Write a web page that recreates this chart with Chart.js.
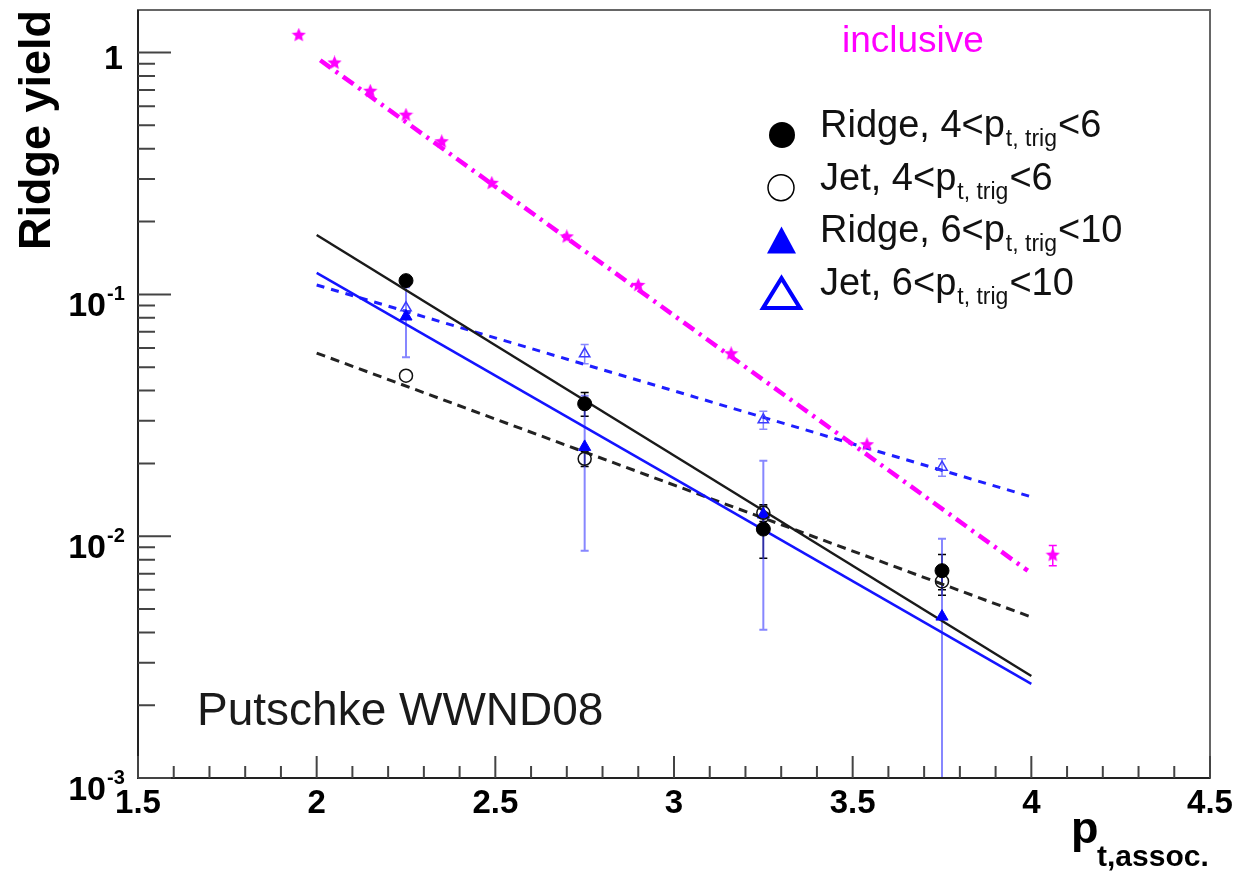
<!DOCTYPE html>
<html>
<head>
<meta charset="utf-8">
<script src="https://cdn.jsdelivr.net/npm/chart.js@4.4.1/dist/chart.umd.min.js"></script>
<style>
  html, body { margin: 0; padding: 0; background: #fff; }
  #wrap { width: 1235px; height: 874px; position: relative; }
</style>
</head>
<body>
<div id="wrap"><canvas id="ridgeChart"></canvas></div>
<script>
// p_t,assoc. bins of the per-trigger yields
var ptBins = [2.25, 2.75, 3.25, 3.75];

var ridgeLow = [0.114, 0.0353, 0.0107, 0.0072];      // Ridge, 4<pt,trig<6
var ridgeLowErr = [0.006, 0.004, 0.0026, 0.0012];
var jetLow = [0.0461, 0.0209, 0.0125, 0.0065];       // Jet, 4<pt,trig<6
var jetLowErr = [0.002, 0.0015, 0.001, 0.0008];
var ridgeHigh = [0.081, 0.0234, 0.0123, 0.00465];    // Ridge, 6<pt,trig<10
var ridgeHighErr = [0.026, 0.0147, 0.0082, 0.0051];
var jetHigh = [0.088, 0.0568, 0.0303, 0.0193];       // Jet, 6<pt,trig<10
var jetHighErr = [0.004, 0.0052, 0.0026, 0.0016];

// inclusive spectrum (magenta stars)
var inclX = [1.95, 2.05, 2.15, 2.25, 2.35, 2.49, 2.70, 2.90, 3.16, 3.54, 4.06];
var inclY = [1.18, 0.906, 0.692, 0.551, 0.428, 0.288, 0.173, 0.109, 0.0568, 0.0239, 0.00835];
var inclErr = [0.04, 0.03, 0.025, 0.02, 0.015, 0.01, 0.006, 0.004, 0.002, 0.0009, 0.0008];

// exponential fits, evaluated at the ends of the fit range
var fitX = [2.0, 4.0];
var fitRidgeLow = [0.176, 0.00264];
var fitRidgeHigh = [0.1227, 0.00245];
var fitJetHigh = [0.1094, 0.01455];
var fitJetLow = [0.0572, 0.00463];
var fitInclX = [2.01, 3.99];
var fitIncl = [0.93, 0.0072];

// axis labels
var xTickLabels = [1.5, 2, 2.5, 3, 3.5, 4, 4.5];
var yTickValues = [1, 0.1, 0.01, 0.001];
var yTickExps = [0, -1, -2, -3];

var legendParts = [
  ['Ridge, 4<p', 't, trig', '<6'],
  ['Jet, 4<p', 't, trig', '<6'],
  ['Ridge, 6<p', 't, trig', '<10'],
  ['Jet, 6<p', 't, trig', '<10']
];

var FONT = '"Liberation Sans", Arial, Helvetica, sans-serif';

function toPts(xs, ys) {
  return xs.map(function(x, i) { return {x: x, y: ys[i]}; });
}

function starImage(size, color) {
  var c = document.createElement('canvas');
  c.width = size; c.height = size;
  var g = c.getContext('2d');
  var r = size / 2, ri = r * 0.45;
  g.beginPath();
  for (var i = 0; i < 10; i++) {
    var ang = -Math.PI / 2 + i * Math.PI / 5;
    var rr = i % 2 === 0 ? r : ri;
    g.lineTo(r + rr * Math.cos(ang), r + rr * Math.sin(ang));
  }
  g.closePath();
  g.fillStyle = color;
  g.fill();
  return c;
}

var errorBars = {
  id: 'errorBars',
  beforeDatasetsDraw: function(chart) {
    var ctx = chart.ctx, xs = chart.scales.x, ys = chart.scales.y, a = chart.chartArea;
    ctx.save();
    chart.data.datasets.forEach(function(ds) {
      if (!ds.errors) return;
      ctx.strokeStyle = ds.errorColor;
      ctx.lineWidth = ds.errorWidth || 1.5;
      ds.data.forEach(function(p, i) {
        var e = ds.errors[i];
        var px = xs.getPixelForValue(p.x);
        var top = ys.getPixelForValue(p.y + e);
        var lo = p.y - e;
        var bot = lo > 0 ? Math.min(ys.getPixelForValue(lo), a.bottom) : a.bottom;
        // hidden behind the marker, as in the original
        if (bot - top < 2 * ds.pointRadius + 2) return;
        ctx.beginPath();
        ctx.moveTo(px, top); ctx.lineTo(px, bot);
        ctx.moveTo(px - 4, top); ctx.lineTo(px + 4, top);
        if (lo > 0) { ctx.moveTo(px - 4, bot); ctx.lineTo(px + 4, bot); }
        ctx.stroke();
      });
    });
    ctx.restore();
  }
};

var rootAxes = {
  id: 'rootAxes',
  afterDraw: function(chart) {
    var ctx = chart.ctx, a = chart.chartArea, xs = chart.scales.x, ys = chart.scales.y;
    ctx.save();

    // frame
    ctx.lineWidth = 2;
    ctx.strokeStyle = '#666';
    ctx.strokeRect(a.left, a.top, a.right - a.left, a.bottom - a.top);
    ctx.strokeStyle = '#222';
    ctx.beginPath();
    ctx.moveTo(a.left, a.top); ctx.lineTo(a.left, a.bottom); ctx.lineTo(a.right, a.bottom);
    ctx.stroke();

    // tick marks, pointing inwards
    ctx.strokeStyle = '#444';
    ctx.beginPath();
    xs.ticks.forEach(function(t) {
      var px = xs.getPixelForValue(t.value);
      var major = Math.abs(t.value * 2 - Math.round(t.value * 2)) < 1e-6;
      ctx.moveTo(px, a.bottom); ctx.lineTo(px, a.bottom - (major ? 22 : 12));
    });
    ys.ticks.forEach(function(t) {
      var m = t.value / Math.pow(10, Math.floor(Math.log10(t.value) + 1e-9));
      if (Math.abs(m - Math.round(m)) > 1e-6) return;
      var py = ys.getPixelForValue(t.value);
      if (py < a.top) return;
      ctx.moveTo(a.left, py); ctx.lineTo(a.left + (Math.round(m) === 1 ? 33 : 17), py);
    });
    ctx.stroke();

    // tick labels
    ctx.fillStyle = '#000';
    ctx.font = 'bold 33px ' + FONT;
    ctx.textAlign = 'center';
    ctx.textBaseline = 'alphabetic';
    xTickLabels.forEach(function(v) {
      ctx.fillText(String(v), xs.getPixelForValue(v), a.bottom + 35);
    });
    yTickValues.forEach(function(v, i) {
      var py = ys.getPixelForValue(v);
      ctx.textAlign = 'right';
      ctx.font = 'bold 34px ' + FONT;
      if (yTickExps[i] === 0) {
        ctx.fillText('1', a.left - 15, py + 16);
      } else {
        ctx.fillText('10', a.left - 32, py + 22);
        ctx.textAlign = 'left';
        ctx.font = 'bold 20px ' + FONT;
        ctx.fillText(String(yTickExps[i]), a.left - 31, py + 6);
      }
    });

    // axis titles
    ctx.save();
    ctx.translate(50, a.top);
    ctx.rotate(-Math.PI / 2);
    ctx.textAlign = 'right';
    ctx.font = 'bold 45px ' + FONT;
    ctx.fillText('Ridge yield', 0, 0);
    ctx.restore();

    ctx.textAlign = 'left';
    ctx.font = 'bold 45px ' + FONT;
    ctx.fillText('p', 1071, 843);
    ctx.font = 'bold 30px ' + FONT;
    ctx.fillText('t,assoc.', 1097, 866);

    // annotations
    ctx.font = '46px ' + FONT;
    ctx.fillStyle = '#1a1a1a';
    ctx.fillText('Putschke WWND08', a.left + 59, 725);
    ctx.font = '37px ' + FONT;
    ctx.fillStyle = '#ff00ff';
    ctx.fillText('inclusive', a.right - 368, a.top + 42);

    // legend
    var mx = a.right - 429, tx = a.right - 390;
    legendParts.forEach(function(parts, i) {
      var base = a.top + 127 + 52.7 * i;
      var cy = base - 2;
      ctx.fillStyle = '#000';
      ctx.strokeStyle = '#000';
      if (i === 0) {
        ctx.beginPath(); ctx.arc(mx + 1, cy, 13, 0, 2 * Math.PI); ctx.fill();
      } else if (i === 1) {
        ctx.lineWidth = 1.5;
        ctx.beginPath(); ctx.arc(mx, cy, 13, 0, 2 * Math.PI); ctx.stroke();
      } else if (i === 2) {
        ctx.fillStyle = '#0000ff';
        ctx.beginPath();
        ctx.moveTo(mx - 14, cy + 13); ctx.lineTo(mx + 15, cy + 13); ctx.lineTo(mx + 0.5, cy - 14);
        ctx.closePath(); ctx.fill();
      } else {
        ctx.strokeStyle = '#0000ff';
        ctx.lineWidth = 4;
        ctx.beginPath();
        ctx.moveTo(mx - 18, cy + 15); ctx.lineTo(mx + 19, cy + 15); ctx.lineTo(mx + 0.5, cy - 15);
        ctx.closePath(); ctx.stroke();
      }
      ctx.fillStyle = '#111';
      ctx.textAlign = 'left';
      ctx.font = '38px ' + FONT;
      ctx.fillText(parts[0], tx, base);
      var w0 = ctx.measureText(parts[0]).width;
      ctx.font = '23px ' + FONT;
      ctx.fillText(parts[1], tx + w0 + 1, base + 9);
      var w1 = ctx.measureText(parts[1]).width;
      ctx.font = '38px ' + FONT;
      ctx.fillText(parts[2], tx + w0 + w1 + 2, base);
    });

    ctx.restore();
  }
};

var starImg = starImage(15, '#ff00ff');

new Chart('ridgeChart', {
  type: 'scatter',
  data: {
    datasets: [
      {
        label: 'inclusive',
        data: toPts(inclX, inclY),
        errors: inclErr, errorColor: '#ff00ff',
        pointStyle: starImg, pointRadius: 7,
        backgroundColor: '#ff00ff', borderColor: '#ff00ff'
      },
      {
        label: 'Ridge, 4<pt,trig<6',
        data: toPts(ptBins, ridgeLow),
        errors: ridgeLowErr, errorColor: '#000',
        pointStyle: 'circle', pointRadius: 7,
        backgroundColor: '#000', borderColor: '#000', borderWidth: 1
      },
      {
        label: 'Jet, 4<pt,trig<6',
        data: toPts(ptBins, jetLow),
        errors: jetLowErr, errorColor: '#000',
        pointStyle: 'circle', pointRadius: 6.5,
        backgroundColor: 'rgba(255,255,255,0)', borderColor: '#111', borderWidth: 1.5
      },
      {
        label: 'Ridge, 6<pt,trig<10',
        data: toPts(ptBins, ridgeHigh),
        errors: ridgeHighErr, errorColor: 'rgba(70,70,255,0.65)', errorWidth: 2,
        pointStyle: 'triangle', pointRadius: 7,
        backgroundColor: '#0000ff', borderColor: '#0000ff', borderWidth: 1
      },
      {
        label: 'Jet, 6<pt,trig<10',
        data: toPts(ptBins, jetHigh),
        errors: jetHighErr, errorColor: 'rgba(70,70,255,0.65)', errorWidth: 1.5,
        pointStyle: 'triangle', pointRadius: 6,
        backgroundColor: 'rgba(255,255,255,0)', borderColor: '#3a3aff', borderWidth: 1.5
      },
      {
        label: 'fit inclusive', data: toPts(fitInclX, fitIncl), showLine: true, pointRadius: 0,
        borderColor: '#ff00ff', borderWidth: 4.5, borderDash: [13, 6, 3, 6]
      },
      {
        label: 'fit ridge 4-6', data: toPts(fitX, fitRidgeLow), showLine: true, pointRadius: 0,
        borderColor: '#1a1a1a', borderWidth: 2.5
      },
      {
        label: 'fit ridge 6-10', data: toPts(fitX, fitRidgeHigh), showLine: true, pointRadius: 0,
        borderColor: '#1414ff', borderWidth: 2.5
      },
      {
        label: 'fit jet 6-10', data: toPts(fitX, fitJetHigh), showLine: true, pointRadius: 0,
        borderColor: '#1e1eff', borderWidth: 3, borderDash: [8, 7]
      },
      {
        label: 'fit jet 4-6', data: toPts(fitX, fitJetLow), showLine: true, pointRadius: 0,
        borderColor: '#222', borderWidth: 3, borderDash: [9, 6]
      }
    ]
  },
  options: {
    responsive: true,
    maintainAspectRatio: false,
    animation: false,
    layout: { padding: { top: 10, right: 25, left: 0, bottom: 0 } },
    plugins: {
      legend: { display: false },
      tooltip: { enabled: false }
    },
    scales: {
      x: {
        type: 'linear', min: 1.5, max: 4.5,
        ticks: { display: false, stepSize: 0.1 },
        grid: { display: false }, border: { display: false },
        afterFit: function(s) { s.height = 96; }
      },
      y: {
        type: 'logarithmic', min: 0.001, max: 1.5,
        ticks: { display: false },
        grid: { display: false }, border: { display: false },
        afterFit: function(s) { s.width = 138; }
      }
    }
  },
  plugins: [errorBars, rootAxes]
});
</script>
</body>
</html>
